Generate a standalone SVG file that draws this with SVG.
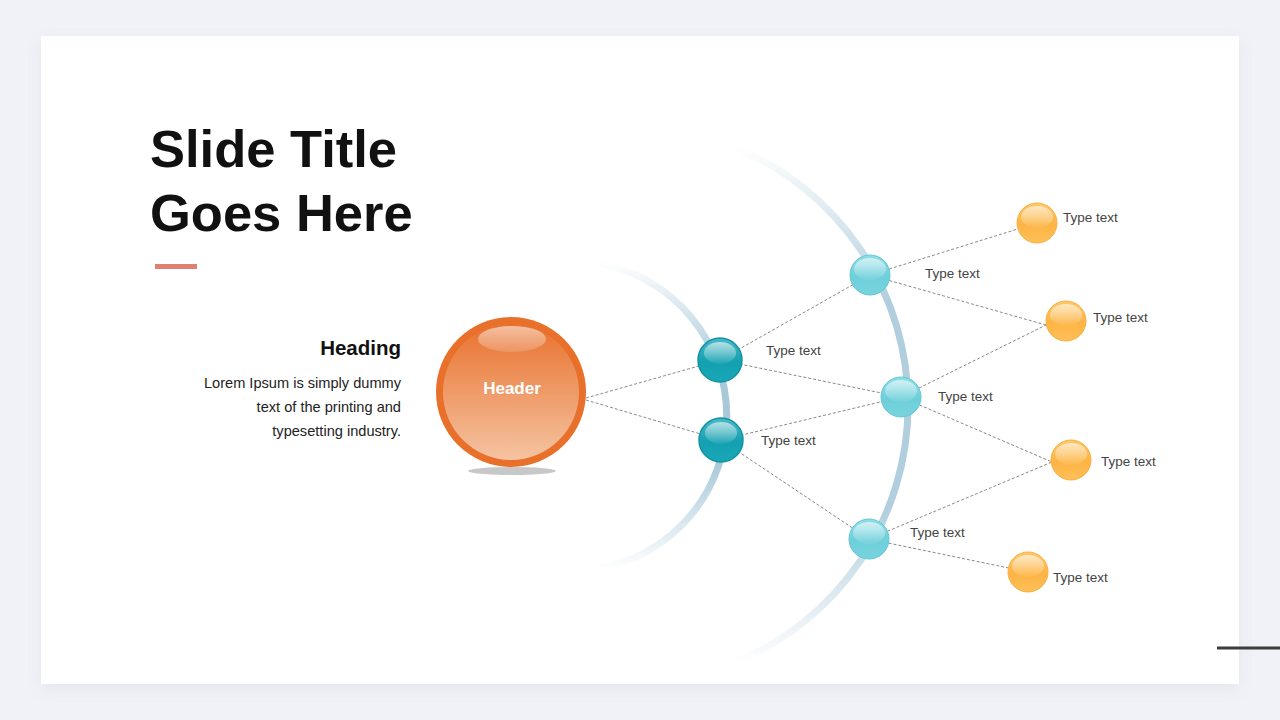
<svg xmlns="http://www.w3.org/2000/svg" width="1280" height="720" viewBox="0 0 1280 720">
<defs>
<style>
.lbl{font-family:"Liberation Sans",Arial,sans-serif;font-size:13.5px;fill:#444}
.conn{stroke:#8a8a8a;stroke-width:1;stroke-dasharray:3 2;fill:none}
.body{font-family:"Liberation Sans",Arial,sans-serif;font-size:14.6px;fill:#222}
</style>
<filter id="shadow" x="-5%" y="-5%" width="110%" height="115%">
<feDropShadow dx="0" dy="5" stdDeviation="7" flood-color="#8090a0" flood-opacity="0.12"/>
</filter>
<linearGradient id="hdrFill" x1="0" y1="0" x2="0" y2="1">
<stop offset="0" stop-color="#e8722f"/>
<stop offset="1" stop-color="#f5c3a1"/>
</linearGradient>
<linearGradient id="hl" x1="0" y1="0" x2="0" y2="1">
<stop offset="0" stop-color="#ffffff" stop-opacity="0.6"/>
<stop offset="1" stop-color="#ffffff" stop-opacity="0.05"/>
</linearGradient>
<linearGradient id="hlH" x1="0" y1="0" x2="0" y2="1">
<stop offset="0" stop-color="#ffffff" stop-opacity="0.55"/>
<stop offset="1" stop-color="#ffffff" stop-opacity="0.15"/>
</linearGradient>
<linearGradient id="tealD" x1="0" y1="0" x2="0" y2="1">
<stop offset="0" stop-color="#4cb9c6"/>
<stop offset="0.55" stop-color="#13a0b1"/>
<stop offset="1" stop-color="#1aa7b7"/>
</linearGradient>
<linearGradient id="tealL" x1="0" y1="0" x2="0" y2="1">
<stop offset="0" stop-color="#8fdde5"/>
<stop offset="0.55" stop-color="#6dcfda"/>
<stop offset="1" stop-color="#78d4de"/>
</linearGradient>
<linearGradient id="orng" x1="0" y1="0" x2="0" y2="1">
<stop offset="0" stop-color="#fdc769"/>
<stop offset="0.55" stop-color="#fdb444"/>
<stop offset="1" stop-color="#fec05a"/>
</linearGradient>
<linearGradient id="arcIn" gradientUnits="userSpaceOnUse" x1="0" y1="262" x2="0" y2="570">
<stop offset="0" stop-color="#a8c9da" stop-opacity="0"/>
<stop offset="0.35" stop-color="#a8c9da" stop-opacity="1"/>
<stop offset="0.65" stop-color="#a8c9da" stop-opacity="1"/>
<stop offset="1" stop-color="#a8c9da" stop-opacity="0"/>
</linearGradient>
<linearGradient id="arcOut" gradientUnits="userSpaceOnUse" x1="0" y1="147" x2="0" y2="663">
<stop offset="0" stop-color="#a8c9da" stop-opacity="0"/>
<stop offset="0.3" stop-color="#a8c9da" stop-opacity="0.9"/>
<stop offset="0.7" stop-color="#a8c9da" stop-opacity="0.9"/>
<stop offset="1" stop-color="#a8c9da" stop-opacity="0"/>
</linearGradient>
<g id="hlSm"><ellipse cx="0" cy="-7" rx="16" ry="11" fill="url(#hl)"/></g>
</defs>
<rect x="0" y="0" width="1280" height="720" fill="#f0f2f7"/>
<rect x="41" y="36" width="1198" height="648" fill="#ffffff" filter="url(#shadow)"/>
<line x1="1217" y1="648" x2="1280" y2="648" stroke="#3d3d3d" stroke-width="3"/>

<g id="title">
<text x="150" y="167" font-family="'Liberation Sans',Arial,sans-serif" font-weight="bold" font-size="52.5" fill="#111">Slide Title</text>
<text x="150" y="231" font-family="'Liberation Sans',Arial,sans-serif" font-weight="bold" font-size="52.5" fill="#111">Goes Here</text>
<rect x="155" y="264" width="42" height="5" fill="#e0806f"/>
</g>
<g id="description">
<text x="401" y="355" text-anchor="end" font-family="'Liberation Sans',Arial,sans-serif" font-weight="bold" font-size="20.5" fill="#111">Heading</text>
<text x="401" y="388" text-anchor="end" class="body">Lorem Ipsum is simply dummy</text>
<text x="401" y="412" text-anchor="end" class="body">text of the printing and</text>
<text x="401" y="436" text-anchor="end" class="body">typesetting industry.</text>
</g>

<g id="arcs">
<path d="M 598.9 263.4 A 155 155 0 0 1 598.9 568.6" fill="none" stroke="url(#arcIn)" stroke-width="7"/>
<path d="M 734.1 147.2 A 278 278 0 0 1 734.1 662.8" fill="none" stroke="url(#arcOut)" stroke-width="7"/>
</g>

<g id="connectors">
<line class="conn" x1="586" y1="398" x2="720" y2="360"/>
<line class="conn" x1="586" y1="400" x2="721" y2="440"/>
<line class="conn" x1="720" y1="360" x2="870" y2="275"/>
<line class="conn" x1="720" y1="360" x2="901" y2="397"/>
<line class="conn" x1="721" y1="440" x2="901" y2="397"/>
<line class="conn" x1="721" y1="440" x2="869" y2="539"/>
<line class="conn" x1="870" y1="275" x2="1037" y2="223"/>
<line class="conn" x1="870" y1="275" x2="1046" y2="325"/>
<line class="conn" x1="901" y1="397" x2="1046" y2="325"/>
<line class="conn" x1="901" y1="397" x2="1052" y2="462"/>
<line class="conn" x1="869" y1="539" x2="1052" y2="462"/>
<line class="conn" x1="869" y1="539" x2="1028" y2="572"/>
</g>

<g id="header">
<ellipse cx="512" cy="471" rx="44" ry="4" fill="#c8c8c8"/>
<circle cx="511" cy="392" r="75" fill="#e8702a"/>
<circle cx="511" cy="392" r="68" fill="url(#hdrFill)"/>
<ellipse cx="512" cy="339" rx="34" ry="13" fill="url(#hlH)"/>
<text x="512" y="394" text-anchor="middle" font-family="'Liberation Sans',Arial,sans-serif" font-weight="bold" font-size="17" fill="#ffffff">Header</text>
</g>

<g id="inner1">
<circle cx="720" cy="360" r="22" fill="url(#tealD)" stroke="#1193a4" stroke-width="1.5"/>
<use href="#hlSm" x="720" y="360"/>
<text class="lbl" x="766" y="355">Type text</text>
</g>
<g id="inner2">
<circle cx="721" cy="440" r="22" fill="url(#tealD)" stroke="#1193a4" stroke-width="1.5"/>
<use href="#hlSm" x="721" y="440"/>
<text class="lbl" x="761" y="445">Type text</text>
</g>

<g id="outer1">
<circle cx="870" cy="275" r="20" fill="url(#tealL)" stroke="#63c8d4" stroke-width="1"/>
<use href="#hlSm" x="870" y="276"/>
<text class="lbl" x="925" y="278">Type text</text>
</g>
<g id="outer2">
<circle cx="901" cy="397" r="20" fill="url(#tealL)" stroke="#63c8d4" stroke-width="1"/>
<use href="#hlSm" x="901" y="398"/>
<text class="lbl" x="938" y="401">Type text</text>
</g>
<g id="outer3">
<circle cx="869" cy="539" r="20" fill="url(#tealL)" stroke="#63c8d4" stroke-width="1"/>
<use href="#hlSm" x="869" y="540"/>
<text class="lbl" x="910" y="537">Type text</text>
</g>

<g id="leaf1">
<circle cx="1037" cy="223" r="20" fill="url(#orng)" stroke="#f9b040" stroke-width="1"/>
<use href="#hlSm" x="1037" y="224"/>
<text class="lbl" x="1063" y="222">Type text</text>
</g>
<g id="leaf2">
<circle cx="1066" cy="321" r="20" fill="url(#orng)" stroke="#f9b040" stroke-width="1"/>
<use href="#hlSm" x="1066" y="322"/>
<text class="lbl" x="1093" y="322">Type text</text>
</g>
<g id="leaf3">
<circle cx="1071" cy="460" r="20" fill="url(#orng)" stroke="#f9b040" stroke-width="1"/>
<use href="#hlSm" x="1071" y="461"/>
<text class="lbl" x="1101" y="466">Type text</text>
</g>
<g id="leaf4">
<circle cx="1028" cy="572" r="20" fill="url(#orng)" stroke="#f9b040" stroke-width="1"/>
<use href="#hlSm" x="1028" y="573"/>
<text class="lbl" x="1053" y="582">Type text</text>
</g>
</svg>
